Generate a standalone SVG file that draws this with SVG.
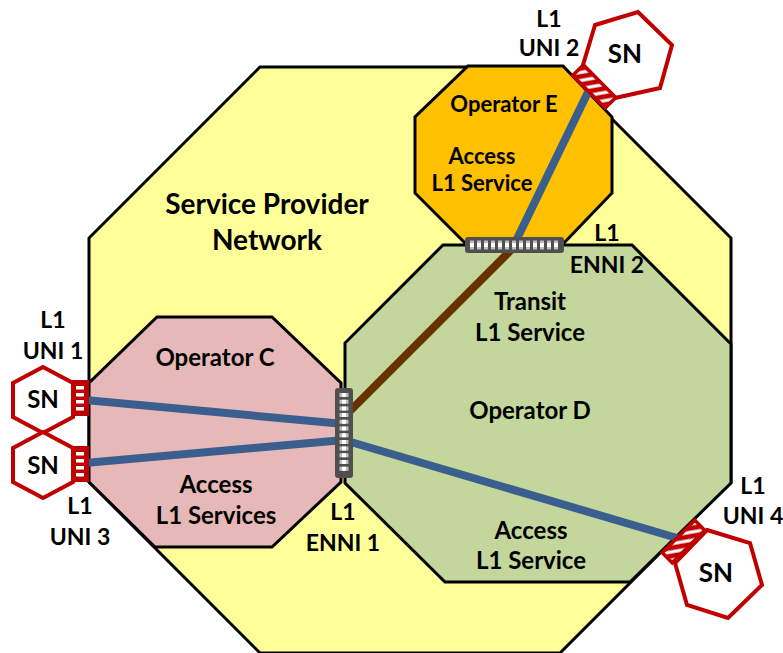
<svg xmlns="http://www.w3.org/2000/svg" width="783" height="653" viewBox="0 0 783 653">
<defs>
<style>
.oct{stroke:#000;stroke-width:3;stroke-linejoin:miter}
.t{font-family:Lato,"Open Sans","Liberation Sans",sans-serif;font-weight:700;fill:#000;text-anchor:middle}
.big{font-size:28px}
.mid{font-size:24px}
.sm{font-size:22px}
.lab{font-size:23px}
.sn{fill:#fff;stroke:#C00000;stroke-width:4;stroke-linejoin:miter}
.snt{font-size:24px}
.blue{stroke:#3A5F8F;stroke-width:8;fill:none}
.brown{stroke:#663300;stroke-width:8;fill:none}
.enni{fill:#4F4F4F}
.bars1{stroke:#BDBDBD;stroke-width:9;fill:none}
.bars2{stroke:#fff;stroke-width:4;fill:none}
.port{fill:#C00000}
.slot{fill:#fff}
.hatchp{fill:url(#hatch);stroke:#C00000;stroke-width:3.5;stroke-linejoin:miter}
</style>
<pattern id="hatch" patternUnits="userSpaceOnUse" width="8" height="8" patternTransform="rotate(-10)">
<rect width="8" height="8" fill="#C00000"/>
<rect y="2.5" width="8" height="3.2" fill="#fff"/>
</pattern>
</defs>

<g id="service-provider-network">
<polygon class="oct" fill="#FFFF99" points="260,67 560,67 731,238 731,482 560,653 260,653 89,482 89,238"/>
<text class="t big" x="267" y="214">Service Provider</text>
<text class="t big" x="267" y="250">Network</text>
</g>

<g id="operator-c">
<polygon class="oct" fill="#E6B9B8" points="157,317 272,317 341,383 341,482 272,547 155,547 89,482 89,383"/>
<text class="t mid" x="215" y="366">Operator C</text>
<text class="t mid" x="216" y="493">Access</text>
<text class="t mid" x="216" y="524">L1 Services</text>
</g>

<g id="operator-e">
<polygon class="oct" fill="#FFC000" points="468,66 563,66 612,117 612,193 562,245 467,245 415,193 415,117"/>
<text class="t sm" x="504" y="112">Operator E</text>
<text class="t sm" x="482" y="164">Access</text>
<text class="t sm" x="482" y="191">L1 Service</text>
</g>

<g id="operator-d">
<polygon class="oct" fill="#C3D69B" points="443,245 632,245 731,344 731,483 630,582 445,582 345,483 345,343"/>
<text class="t mid" x="530" y="310">Transit</text>
<text class="t mid" x="530" y="341">L1 Service</text>
<text class="t mid" x="530" y="419">Operator D</text>
<text class="t mid" x="531" y="539">Access</text>
<text class="t mid" x="531" y="569">L1 Service</text>
</g>

<g id="connectors">
<line class="blue" x1="85" y1="400" x2="344" y2="424"/>
<line class="blue" x1="85" y1="463" x2="344" y2="440"/>
<line class="blue" x1="344" y1="440" x2="677" y2="538"/>
<line class="blue" x1="590" y1="88" x2="514" y2="245"/>
<line class="brown" x1="515" y1="246" x2="345" y2="416"/>
</g>

<g id="enni-1">
<rect class="enni" x="335" y="388" width="18" height="90" rx="3"/>
<line class="bars1" x1="344" y1="393" x2="344" y2="473" stroke-dasharray="4 2.7"/>
<line class="bars2" x1="344" y1="393" x2="344" y2="473" stroke-dasharray="4 2.7"/>
<text class="t lab" x="343" y="520">L1</text>
<text class="t lab" x="343" y="551">ENNI 1</text>
</g>

<g id="enni-2">
<rect class="enni" x="465" y="237" width="99" height="16" rx="3"/>
<line class="bars1" x1="470" y1="245" x2="560" y2="245" stroke-dasharray="4 3"/>
<line class="bars2" x1="470" y1="245" x2="560" y2="245" stroke-dasharray="4 3"/>
<text class="t lab" x="607" y="241">L1</text>
<text class="t lab" x="607" y="273">ENNI 2</text>
</g>

<g id="sn-uni-1">
<polygon class="sn" points="43,367 73,383 73,417 43,433 13,417 13,383"/>
<text class="t snt" x="43" y="408">SN</text>
<rect class="port" x="71" y="380" width="18" height="36"/>
<rect class="slot" x="76" y="386" width="8" height="3.5"/>
<rect class="slot" x="76" y="393" width="8" height="3.5"/>
<rect class="slot" x="76" y="400" width="8" height="3.5"/>
<rect class="slot" x="76" y="407" width="8" height="3.5"/>
<text class="t lab" x="53" y="328">L1</text>
<text class="t lab" x="53" y="359">UNI 1</text>
</g>

<g id="sn-uni-3">
<polygon class="sn" points="43,432 73,448 73,482 43,498 13,482 13,448"/>
<text class="t snt" x="43" y="474">SN</text>
<rect class="port" x="71" y="446" width="18" height="36"/>
<rect class="slot" x="76" y="452" width="8" height="3.5"/>
<rect class="slot" x="76" y="459" width="8" height="3.5"/>
<rect class="slot" x="76" y="466" width="8" height="3.5"/>
<rect class="slot" x="76" y="473" width="8" height="3.5"/>
<text class="t lab" x="80" y="514">L1</text>
<text class="t lab" x="80" y="545">UNI 3</text>
</g>

<g id="sn-uni-2">
<polygon class="sn" points="595,25 638,12 672,45 660,88 615,98 583,65"/>
<text class="t snt" x="625" y="63" style="font-size:26px">SN</text>
<polygon class="hatchp" points="583.3,64.9 615.8,97.5 605.2,108.1 572.7,75.5"/>
<text class="t lab" x="549" y="27">L1</text>
<text class="t lab" x="549" y="56">UNI 2</text>
</g>

<g id="sn-uni-4">
<polygon class="sn" points="707,530 750,543 762,585 728,618 687,605 675,563"/>
<text class="t snt" x="716" y="582" style="font-size:26px">SN</text>
<polygon class="hatchp" points="694.8,520.3 704.7,530.2 672.2,562.7 662.3,552.8"/>
<text class="t lab" x="753" y="494">L1</text>
<text class="t lab" x="753" y="524">UNI 4</text>
</g>
</svg>
